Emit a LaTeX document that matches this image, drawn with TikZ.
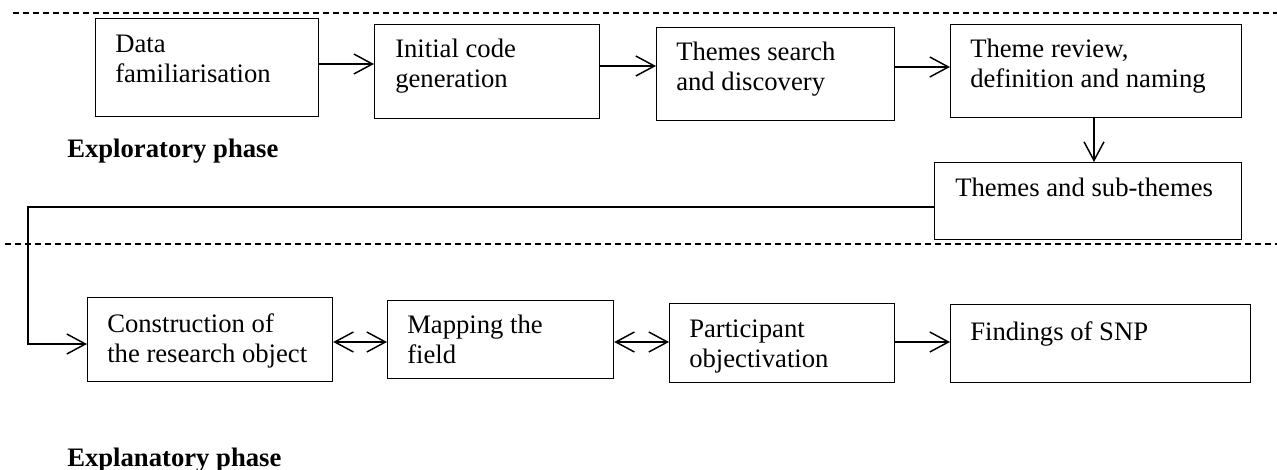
\documentclass[tikz,border=0pt]{standalone}
\usepackage{fontspec}
\setmainfont{Liberation Serif}
\usetikzlibrary{arrows.meta}

\begin{document}
\begin{tikzpicture}[
  x=0.75pt, y=-0.75pt,
  font=\fontsize{20}{22.5}\selectfont,
  stepbox/.style={draw, line width=0.9pt, inner sep=0pt, anchor=north west},
  txt/.style={anchor=base west, inner sep=0pt, align=left},
  phase/.style={anchor=base west, inner sep=0pt, font=\fontsize{20}{22.5}\selectfont\bfseries},
  barb/.tip={Straight Barb[length=14pt, width=15pt, line width=1.1pt]},
  conn/.style={line width=1.3pt},
  arr/.style={conn, -barb},
  darr/.style={conn, barb-barb},
  sep/.style={line width=1pt, dash pattern=on 4.5pt off 3pt}
]
\useasboundingbox (0,0) rectangle (1277,470);

% phase separators
\coordinate (sepAw) at (13,13);
\coordinate (sepAe) at (1277,13);
\coordinate (sepBw) at (5,244);
\coordinate (sepBe) at (1277,244);
\draw[sep] (sepAw) -- (sepAe);
\draw[sep] (sepBw) -- (sepBe);

% exploratory phase boxes
\node[stepbox, minimum width=223*0.75pt, minimum height=98*0.75pt] (b1) at (95,18) {};
\node[stepbox, minimum width=225*0.75pt, minimum height=94*0.75pt] (b2) at (374,24) {};
\node[stepbox, minimum width=238*0.75pt, minimum height=93*0.75pt] (b3) at (656,27) {};
\node[stepbox, minimum width=291*0.75pt, minimum height=93*0.75pt] (b4) at (950,24) {};
\node[stepbox, minimum width=307*0.75pt, minimum height=77*0.75pt] (b5) at (934,162) {};

% explanatory phase boxes
\node[stepbox, minimum width=245*0.75pt, minimum height=84*0.75pt] (b6) at (87,297) {};
\node[stepbox, minimum width=226*0.75pt, minimum height=78*0.75pt] (b7) at (387,300) {};
\node[stepbox, minimum width=225*0.75pt, minimum height=79*0.75pt] (b8) at (669,303) {};
\node[stepbox, minimum width=300*0.75pt, minimum height=78*0.75pt] (b9) at (950,304) {};

% box texts
\node[txt] (t1a) at (115,53) {Data};
\node[txt] (t1b) at (115,83) {familiarisation};
\node[txt] (t2a) at (395,58) {Initial code};
\node[txt] (t2b) at (395,88) {generation};
\node[txt] (t3a) at (676,61) {Themes search};
\node[txt] (t3b) at (676,91) {and discovery};
\node[txt] (t4a) at (970,58) {Theme review,};
\node[txt] (t4b) at (970,88) {definition and naming};
\node[txt] (t5) at (955,197) {Themes and sub-themes};
\node[txt] (t6a) at (107,332) {Construction of};
\node[txt] (t6b) at (107,362) {the research object};
\node[txt] (t7a) at (407,333) {Mapping the};
\node[txt] (t7b) at (407,363) {field};
\node[txt] (t8a) at (689,337) {Participant};
\node[txt] (t8b) at (689,367) {objectivation};
\node[txt] (t9) at (970,340) {Findings of SNP};

% phase titles
\node[phase] (p1) at (67,158) {Exploratory phase};
\node[phase] (p2) at (67,466) {Explanatory phase};

% connectors
\draw[arr] (b1.east |- 0,64) -- (b2.west |- 0,64);
\draw[arr] (b2.east |- 0,66) -- (b3.west |- 0,66);
\draw[arr] (b3.east |- 0,67) -- (b4.west |- 0,67);
\draw[arr] (b4.south -| 1094,0) -- (b5.north -| 1094,0);
\coordinate (elbowA) at (28,207);
\coordinate (elbowB) at (28,344);
\draw[arr] (b5.west |- elbowA) -- (elbowA) -- (elbowB) -- (b6.west |- elbowB);
\draw[darr] (b6.east |- 0,342) -- (b7.west |- 0,342);
\draw[darr] (b7.east |- 0,342) -- (b8.west |- 0,342);
\draw[arr] (b8.east |- 0,342) -- (b9.west |- 0,342);
\end{tikzpicture}
\end{document}
